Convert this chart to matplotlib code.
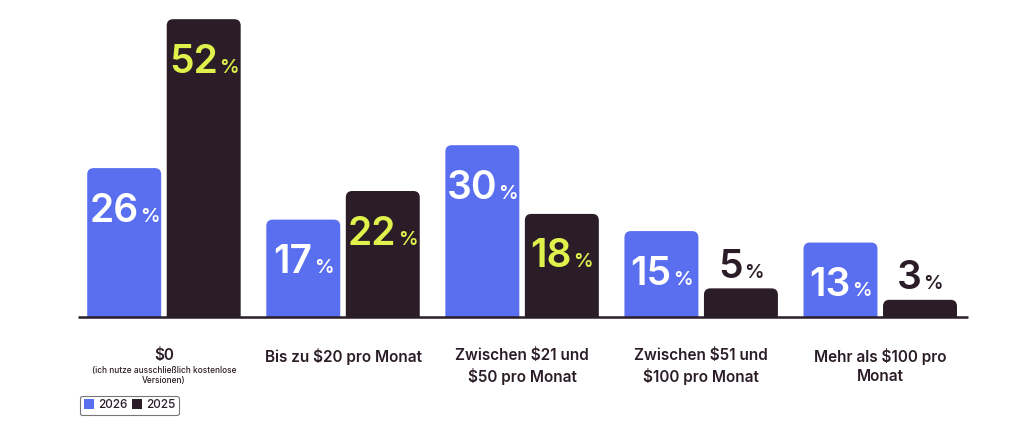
import matplotlib
matplotlib.use("Agg")
from matplotlib import pyplot as plt
from matplotlib.patches import FancyBboxPatch, Patch
from matplotlib.offsetbox import TextArea, HPacker, AnnotationBbox

""" Data """
categories = ["$0", "Bis zu $20 pro Monat", "Zwischen $21 und\n$50 pro Monat",
              "Zwischen $51 und\n$100 pro Monat", "Mehr als $100 pro\nMonat"]
sub_label = "(ich nutze ausschließlich kostenlose\nVersionen)"
values_2026 = [26, 17, 30, 15, 13]
values_2025 = [52, 22, 18, 5, 3]
series_names = ["2026", "2025"]

BLUE = "#5a6ff0"
DARK = "#2b1d27"
YELLOW = "#dff24c"
FONT = ["Inter", "DejaVu Sans"]
plt.rcParams['font.family'] = FONT

fig = plt.figure(figsize=(10.24, 4.25), dpi=100)
ax = fig.add_axes([78 / 1024, 108 / 425, 890 / 1024, 315 / 425])
ax.set_xlim(-0.48, 4.49)
ax.set_ylim(0, 55)
ax.axis("off")

width = 0.413
offset = 0.222
# px per data unit -> aspect for rounded corners
px_x = 890 / 4.97
px_y = 315 / 55
aspect = px_x / px_y


def rounded_bar(x, h, color):
    patch = FancyBboxPatch((x - width / 2, -3), width, h + 3,
                           boxstyle="round,pad=0,rounding_size=0.036",
                           mutation_aspect=aspect, fc=color, ec="none",
                           clip_on=True)
    ax.add_patch(patch)


def value_label(x, v, color, inside):
    num = TextArea(str(v), textprops=dict(size=28, color=color, weight="semibold"))
    pct = TextArea("%", textprops=dict(size=14, color=color, weight="semibold"))
    box = HPacker(children=[num, pct], align="baseline", pad=0, sep=1)
    dy = -43 if inside else 21
    ab = AnnotationBbox(box, (x, v), xybox=(0, dy), boxcoords="offset pixels",
                        frameon=False, box_alignment=(0.5, 0.5))
    ax.add_artist(ab)


for i in range(len(categories)):
    x1 = i - offset
    x2 = i + offset
    rounded_bar(x1, values_2026[i], BLUE)
    rounded_bar(x2, values_2025[i], DARK)
    value_label(x1, values_2026[i], "white", True)
    if values_2025[i] >= 10:
        value_label(x2, values_2025[i], YELLOW, True)
    else:
        value_label(x2, values_2025[i], DARK, False)

    ax.annotate(categories[i], (i, 0), xytext=(0, -31), textcoords="offset pixels",
                ha="center", va="top", fontsize=11, color=DARK, weight="semibold",
                linespacing=1.35, annotation_clip=False)

ax.annotate(sub_label, (0, 0), xytext=(0, -49), textcoords="offset pixels",
            ha="center", va="top", fontsize=6, color=DARK, weight="medium",
            linespacing=1.2, annotation_clip=False)

# baseline
ax.plot([-0.48, 4.49], [0, 0], color=DARK, lw=1.8, clip_on=False, solid_capstyle="butt")

handles = [Patch(facecolor=BLUE, edgecolor="none"), Patch(facecolor=DARK, edgecolor="none")]
leg = fig.legend(handles, series_names, loc="lower left", bbox_to_anchor=(80 / 1024, 10 / 425),
                 ncol=2, fontsize=8.5, frameon=True, fancybox=True, handlelength=0.9,
                 handleheight=0.9, handletextpad=0.3, columnspacing=0.4,
                 borderpad=0.3, borderaxespad=0)
leg.get_frame().set_edgecolor("#555555")
leg.get_frame().set_linewidth(0.8)
for t in leg.get_texts():
    t.set_color(DARK)
    t.set_weight("medium")

fig.savefig("out.png", dpi=100, facecolor="white")
